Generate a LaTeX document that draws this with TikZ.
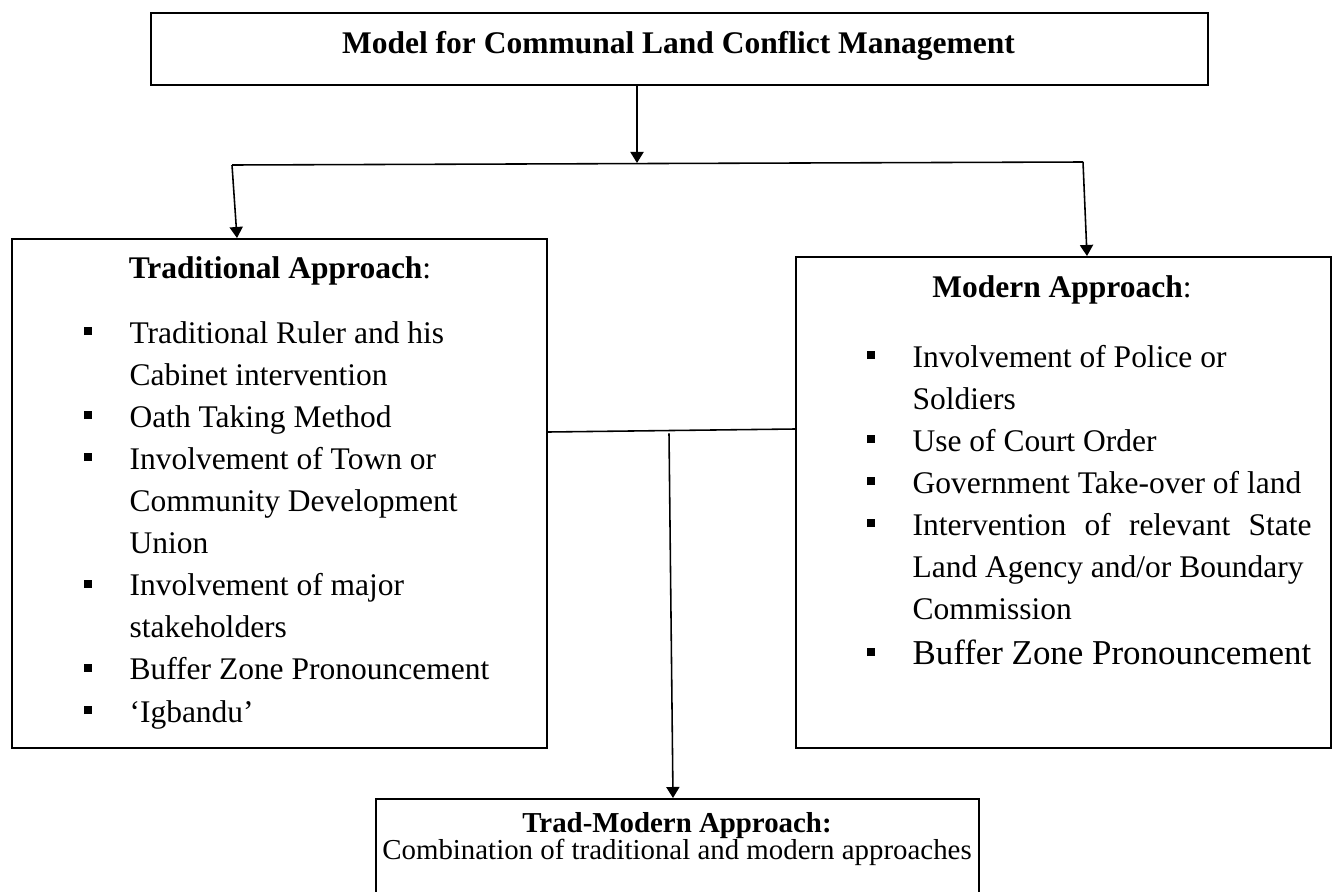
\documentclass[tikz,border=0pt]{standalone}
\usepackage{fontspec}
\setmainfont{Liberation Serif}
\usetikzlibrary{arrows.meta}
\newcommand\sqbul{\rule[3pt]{3.1pt}{3.1pt}}
\begin{document}
\begin{tikzpicture}[x=0.381pt,y=-0.381pt,
  box/.style={draw, line width=0.8pt, inner sep=0pt, anchor=north west},
  conn/.style={line width=0.6pt},
  arr/.style={conn, -{Triangle[length=4.2pt,width=5pt]}},
  txt/.style={anchor=base west, inner sep=0pt, font=\fontsize{12pt}{14pt}\selectfont},
  bigtxt/.style={txt, font=\fontsize{13.3pt}{15pt}\selectfont},
  bul/.style={anchor=base west, inner sep=0pt},
  ttl/.style={anchor=base, inner sep=0pt, font=\fontsize{12pt}{14pt}\selectfont},
  smallttl/.style={ttl, font=\fontsize{11pt}{13pt}\selectfont}]
\fill[white] (0,0) rectangle (1334,891);
\useasboundingbox (0,0) rectangle (1334,891);
\clip (0,0) rectangle (1334,891);

% boxes
\node[box, minimum width=1057*0.381pt, minimum height=72*0.381pt] (top) at (150,12) {};
\node[box, minimum width=535*0.381pt, minimum height=509*0.381pt] (trad) at (11,238) {};
\node[box, minimum width=535*0.381pt, minimum height=491*0.381pt] (modern) at (795,256) {};
\node[box, minimum width=603*0.381pt, minimum height=130*0.381pt] (tm) at (375,798) {};

% titles
\node[ttl] (toptitle) at (678.5,53) {\bfseries Model for Communal Land Conflict Management};
\node[ttl] (tradtitle) at (280,278) {\textbf{Traditional Approach}:};
\node[ttl] (modtitle) at (1062,297) {\textbf{Modern Approach}:};
\node[smallttl] (tmtitle) at (677,832) {\bfseries Trad-Modern Approach:};
\node[smallttl] (tmtext) at (677,859) {Combination of traditional and modern approaches};

% traditional list
\foreach \yy/\tx [count=\i] in {343/Traditional Ruler and his, 385/Cabinet intervention,
  427/Oath Taking Method, 469/Involvement of Town or, 511.4/Community Development,
  553.5/Union, 595.6/Involvement of major, 637.7/stakeholders,
  679.8/Buffer Zone Pronouncement, 722/‘Igbandu’}
  \node[txt] (L\i) at (129,\yy) {\tx};
\foreach \yy [count=\i] in {343,427,469,595.6,679.8,722}
  \node[bul] (LB\i) at (83,\yy) {\sqbul};

% modern list
\node[txt] (M1) at (912,367) {Involvement of Police or};
\node[txt] (M2) at (912,409) {Soldiers};
\node[txt] (M3) at (912,451) {Use of Court Order};
\node[txt] (M4) at (912,493) {Government Take-over of land};
\node[txt] (M5) at (912,535) {\makebox[399\dimexpr0.381pt\relax][s]{Intervention of relevant State}};
\node[txt] (M6) at (912,577) {Land Agency and/or Boundary};
\node[txt] (M7) at (912,619.6) {Commission};
\node[bigtxt] (M8) at (912,664) {Buffer Zone Pronouncement};
\foreach \yy [count=\i] in {367,451,493,535,664}
  \node[bul] (MB\i) at (866,\yy) {\sqbul};

% connectors
\coordinate (split) at (637,163);
\coordinate (bl) at (232,165);
\coordinate (br) at (1083,162);
\coordinate (tradin) at (237,0);
\coordinate (modin) at (1087,0);
\coordinate (mlL) at (0,432);
\coordinate (mlR) at (0,429);
\coordinate (mid) at (669,433.3);
\coordinate (tmin) at (673,0);
\draw[arr] (split |- top.south) -- (split);
\draw[conn] (bl) -- (br);
\draw[arr] (bl) -- (tradin |- trad.north);
\draw[arr] (br) -- (modin |- modern.north);
\draw[conn] (trad.east |- mlL) -- (modern.west |- mlR);
\draw[arr] (mid) -- (tmin |- tm.north);
\end{tikzpicture}
\end{document}
